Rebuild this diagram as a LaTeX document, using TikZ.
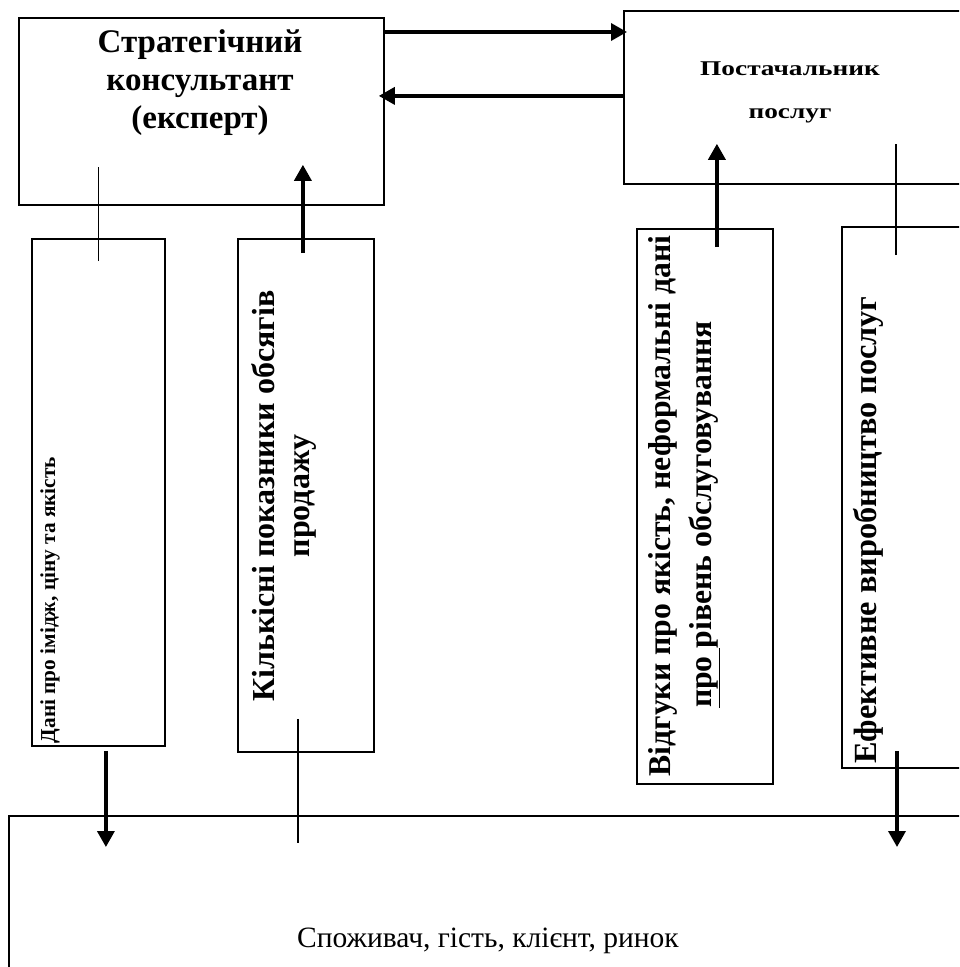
\documentclass[tikz,border=0pt]{standalone}
\usepackage{fontspec}
\setmainfont{Liberation Serif}
\newfontfamily\widefont[FakeStretch=1.3]{Liberation Serif}
\usetikzlibrary{arrows.meta,calc}
\begin{document}
\begin{tikzpicture}[x=1pt,y=-1pt,
  box/.style={draw,line width=1.8pt,inner sep=0pt,anchor=north west},
  lbl/.style={inner sep=0pt,align=center},
  arr/.style={line width=3.5pt,-{Triangle[length=16pt,width=17pt]}},
  thinline/.style={line width=1.6pt}]
\useasboundingbox (0,0) rectangle (959,967);
\clip (0,0) rectangle (959,967);
\fill[white] (0,0) rectangle (959,967);
% boxes
\node[box,minimum width=365pt,minimum height=187pt] (A) at (18,17) {};
\node[box,minimum width=400pt,minimum height=173pt] (B) at (623,10) {};
\node[box,minimum width=133pt,minimum height=507pt] (C) at (31,238) {};
\node[box,minimum width=136pt,minimum height=513pt] (D) at (237,238) {};
\node[box,minimum width=136pt,minimum height=555pt] (E) at (636,228) {};
\node[box,minimum width=200pt,minimum height=541pt] (F) at (841,226) {};
\node[box,minimum width=1000pt,minimum height=200pt] (G) at (8,815) {};
% labels
\node[lbl,font=\fontsize{33}{38}\selectfont\bfseries,anchor=base] (At) at (200,128) {Стратегічний\\консультант\\(експерт)};
\node[lbl,font=\widefont\fontsize{21}{43}\selectfont\bfseries,anchor=base] (Bt) at (790,118) {Постачальник\\послуг};
\node[lbl,font=\fontsize{21.3}{24}\selectfont\bfseries,rotate=90] (Ct) at (50,600) {Дані про імідж, ціну та якість};
\node[lbl,font=\fontsize{32}{35}\selectfont\bfseries,rotate=90] (Dt) at (284,496) {Кількісні показники обсягів\\продажу};
\node[lbl,font=\fontsize{31.7}{41}\selectfont\bfseries,rotate=90] (Et) at (684,506) {Відгуки про якість, неформальні дані\\\underline{про\ }рівень обслуговування\kern17pt};
\node[lbl,font=\fontsize{32.3}{36}\selectfont\bfseries,rotate=90] (Ft) at (868,530) {Ефективне виробництво послуг};
\node[lbl,font=\fontsize{29.5}{30}\selectfont,anchor=base] (Gt) at (488,947) {Споживач, гість, клієнт, ринок};
% connectors
\draw[arr] ([yshift=-15pt]A.north east) -- ([yshift=-15pt,xshift=4pt]A.north east -| B.west);
\draw[arr] ([yshift=1.5pt]B.west) -- ([yshift=1.5pt,xshift=-6pt]B.west -| A.east);
\draw[thinline] ([yshift=-23pt]C.north) -- ([yshift=39pt]A.south -| C.north);
\draw[arr] ([xshift=-3pt,yshift=-15pt]D.north) -- ([xshift=-3pt,yshift=41pt]D.north |- A.south);
\draw[arr] ([xshift=7.5pt,yshift=-4pt]C.south) -- ([xshift=7.5pt,yshift=-32pt]C.south |- G.north);
\draw[thinline] ([xshift=-8pt,yshift=34pt]D.south) -- ([xshift=-8pt,yshift=-28pt]D.south |- G.north);
\draw[arr] ([xshift=12pt,yshift=-19pt]E.north) -- ([xshift=12pt,yshift=41pt]E.north |- B.south);
\draw[thinline] ([xshift=55pt,yshift=-29pt]F.north west) -- ([xshift=55pt,yshift=41pt]F.north west |- B.south);
\draw[arr] ([xshift=56pt,yshift=18pt]F.south west) -- ([xshift=56pt,yshift=-32pt]F.south west |- G.north);
\end{tikzpicture}
\end{document}
